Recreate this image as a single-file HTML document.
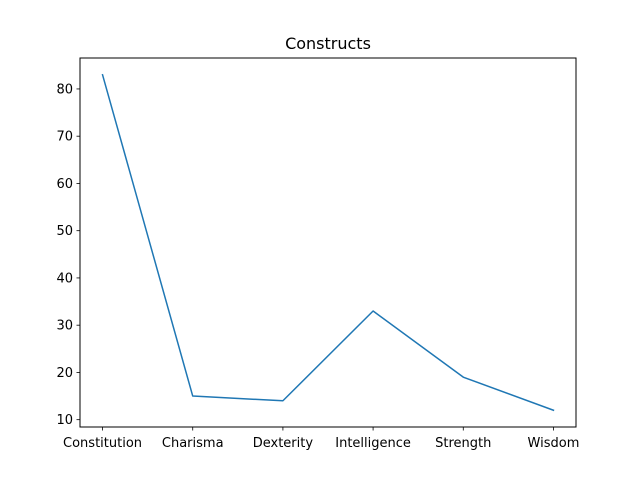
<!DOCTYPE html>
<html><head><meta charset="utf-8"><style>
body{margin:0;background:#fff;}
svg{display:block;font-family:"DejaVu Sans","Liberation Sans",sans-serif;}
</style></head><body>
<svg id="chart" width="640" height="480">
<rect width="640" height="480" fill="#fff"/>
<text x="328" y="49" font-size="16" text-anchor="middle">Constructs</text>
<g id="yaxis"></g>
<g id="xaxis"></g>
<g id="plot"></g>
<rect x="80" y="58" width="496" height="369" fill="none" stroke="#000" stroke-width="1"/>
</svg>
<script>
const categories = ["Constitution","Charisma","Dexterity","Intelligence","Strength","Wisdom"];
const values = [83, 15, 14, 33, 19, 12];
const yTicks = [10, 20, 30, 40, 50, 60, 70, 80];

const L=80,R=576,T=58,B=427;
const vmin=Math.min(...values), vmax=Math.max(...values), pad=(vmax-vmin)*0.05;
const y0=vmin-pad, y1=vmax+pad;
const n=categories.length, x0=-0.25, x1=n-1+0.25;
const xs=i=>L+(i-x0)/(x1-x0)*(R-L);
const ys=v=>B-(v-y0)/(y1-y0)*(B-T);
const NS="http://www.w3.org/2000/svg";
function mk(tag,attrs,parent){const e=document.createElementNS(NS,tag);for(const k in attrs)e.setAttribute(k,attrs[k]);parent.appendChild(e);return e;}
const ya=document.getElementById('yaxis'), xa=document.getElementById('xaxis'), plot=document.getElementById('plot');
yTicks.forEach(t=>{
  const y=ys(t);
  const l=mk('line',{x1:L-3.5,x2:L,y1:y,y2:y,stroke:'#000','stroke-width':0.8},ya);
  
  
  const tx=mk('text',{x:L-7,y:y+4.5,'font-size':13,'text-anchor':'end'},ya);
  tx.textContent=t;
  
  
});
categories.forEach((c,i)=>{
  const x=xs(i);
  const l=mk('line',{x1:x,x2:x,y1:B,y2:B+3.5,stroke:'#000','stroke-width':0.8},xa);
  
  
  const tx=mk('text',{x:x,y:B+20,'font-size':13,'text-anchor':'middle'},xa);
  tx.textContent=c;
  
  
});
const pts=values.map((v,i)=>xs(i)+','+ys(v)).join(' ');
const pl=mk('polyline',{points:pts,fill:'none',stroke:'#1f77b4','stroke-width':1.5,'stroke-linejoin':'round','stroke-linecap':'square'},plot);


</script>
</body></html>
